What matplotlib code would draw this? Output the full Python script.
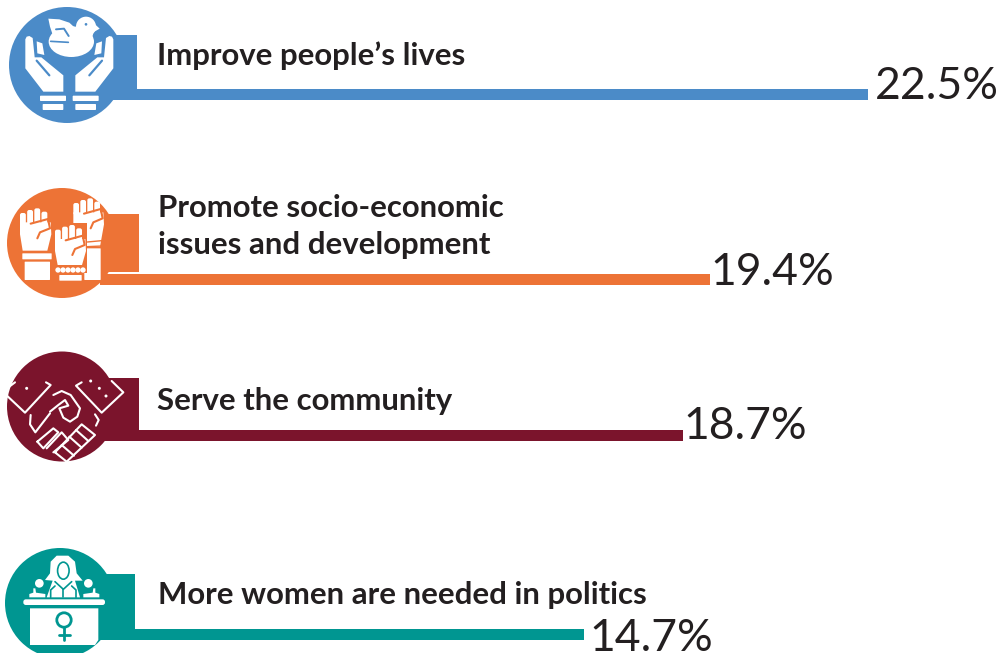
import numpy as np
import matplotlib
matplotlib.use("Agg")
import matplotlib.pyplot as plt
from matplotlib.patches import Circle, Rectangle, Polygon, FancyBboxPatch, Ellipse

W, H = 1004, 653

# Chart content
categories = ["Improve people\u2019s lives",
              "Promote socio-economic\nissues and development",
              "Serve the community",
              "More women are needed in politics"]
shares = [22.5, 19.4, 18.7, 14.7]
share_labels = ["22.5%", "19.4%", "18.7%", "14.7%"]
colors = ["#4b8bc8", "#ed7336", "#7b142c", "#009691"]

# Layout, in pixels from the top-left corner
bar_centres = [94, 279.5, 435.5, 634.5]
bar_height = 11
label_gap = [7, 0, 0, 5]
label_baseline = [99, 285, 439, 651]
text_x = [157, 158, 157, 158]
text_baseline = [65, 254, 410, 604]
discs = [(67, 65, 58), (62, 243, 55), (62, 406.5, 55), (60, 603, 55)]
blocks = [(60, 35, 137, 92), (60, 214, 139, 272), (60, 378, 139, 432), (60, 574, 135, 631)]

# The value axis of this graphic is not uniform, so it gets a piecewise scale.
scale_values = [0, 14.7, 18.7, 19.4, 22.5, 25.2]
scale_pixels = [100, 584, 683, 710, 868, 1004]

fig = plt.figure(figsize=(W / 100, H / 100), dpi=100, facecolor="white")

ax = fig.add_axes([100 / W, 0, (W - 100) / W, 1], zorder=1)
ax.set_xscale("function", functions=(
    lambda v: np.interp(v, scale_values, scale_pixels),
    lambda p: np.interp(p, scale_pixels, scale_values)))
ax.set_xlim(0, 25.2)
ax.set_ylim(H, 0)
ax.axis("off")
ax.barh(bar_centres, shares, height=bar_height, color=colors, linewidth=0)

VALUE_FONT = dict(family="Lato", fontsize=32, color="#231f20", va="baseline", ha="left")
for v, txt, gap, base in zip(shares, share_labels, label_gap, label_baseline):
    ax.annotate(txt, xy=(v, base), xytext=(gap, 0), textcoords="offset pixels",
                annotation_clip=False, **VALUE_FONT)

# Pixel-space layer for the badges, blocks and captions
deco = fig.add_axes([0, 0, 1, 1], zorder=2)
deco.set_xlim(0, W)
deco.set_ylim(H, 0)
deco.axis("off")
deco.patch.set_alpha(0)

for (x0, y0, x1, y1), c in zip(blocks, colors):
    deco.add_patch(Rectangle((x0, y0), x1 - x0, y1 - y0, color=c, lw=0))
for (cx, cy, r), c in zip(discs, colors):
    deco.add_patch(Circle((cx, cy), r, color=c, lw=0))

for x, base, txt in zip(text_x, text_baseline, categories):
    lines = txt.split("\n")
    for i, line_text in enumerate(lines):
        y = base - (len(lines) - 1 - i) * 37
        deco.text(x, y, line_text, family="Lato", fontweight="bold", fontsize=22.4,
                  color="#231f20", va="baseline", ha="left")


def poly(pts, ox, oy, fc="white", **kw):
    pts = np.asarray(pts, float) / 3 + (ox, oy)
    deco.add_patch(Polygon(pts, closed=True, fc=fc, ec="none", joinstyle="round", **kw))


def line(pts, ox, oy, color="white", lw=1.6):
    pts = np.asarray(pts, float) / 3 + (ox, oy)
    deco.plot(pts[:, 0], pts[:, 1], color=color, lw=lw, solid_capstyle="round",
              solid_joinstyle="round")


def rrect(x0, y0, x1, y1, ox, oy, fc="white", rad=2.0):
    deco.add_patch(FancyBboxPatch((x0 / 3 + ox + rad, y0 / 3 + oy + rad),
                                  (x1 - x0) / 3 - 2 * rad, (y1 - y0) / 3 - 2 * rad,
                                  boxstyle=f"round,pad={rad}", fc=fc, ec="none", lw=0))


def dot(x, y, r, ox, oy, fc="white"):
    deco.add_patch(Circle((x / 3 + ox, y / 3 + oy), r / 3, fc=fc, ec="none", lw=0))


# --- Hands holding a dove
c = colors[0]
ox, oy = 0, 0
deco.add_patch(Ellipse((214 / 3, 125 / 3), 136 / 3, 92 / 3, fc="white", ec="none"))
poly([(145, 56), (178, 58), (208, 68), (232, 90), (280, 100), (270, 135), (210, 130),
      (160, 110), (150, 80)], ox, oy)
dot(258, 80, 30, ox, oy)
poly([(280, 68), (299, 86), (278, 98)], ox, oy)
line([(168, 88), (192, 86), (206, 108)], ox, oy, color=c, lw=1.4)
line([(152, 124), (205, 127)], ox, oy, color=c, lw=1.2)
dot(258, 73, 4, ox, oy, fc=c)
for mirrored in (False, True):
    m = (lambda p: [(416 - x, y) for x, y in p]) if mirrored else (lambda p: p)
    poly(m([(76, 118), (80, 110), (88, 108), (98, 114), (104, 172), (124, 172), (190, 226),
            (190, 275), (130, 275), (76, 205)]), ox, oy)
    poly(m([(110, 124), (127, 130), (133, 165), (112, 160)]), ox, oy)
    line(m([(110, 182), (148, 226)]), ox, oy, color=c, lw=1.6)
for a, b in ((120, 198), (218, 296)):
    rrect(a, 287, b, 303, ox, oy, rad=0.8)
rrect(128, 312, 190, 330, ox, oy, rad=0.8)
rrect(226, 312, 288, 330, ox, oy, rad=0.8)

# --- Raised fists
c = colors[1]
ox, oy = 0, 180


def fist(x0, x1, top, palm_bottom, wrist_in=8):
    w = (x1 - x0) / 4
    heights = [14, 5, 0, 10]
    for i, dy in enumerate(heights):
        rrect(x0 + i * w, top + dy, x0 + (i + 1) * w - 4, top + 50, ox, oy, rad=2.0)
    poly([(x0, top + 42), (x1 + 6, top + 42), (x1 + 8, top + 78), (x1 - 4, palm_bottom),
          (x0 + wrist_in, palm_bottom), (x0, top + 78)], ox, oy)
    line([(x0 + 32, top + 46), (x1 - 2, top + 32), (x1 + 4, top + 60), (x0 + 60, top + 72),
          (x0 + 52, top + 90)], ox, oy, color=c, lw=1.5)


fist(220, 304, 55, 200)
rrect(253, 205, 302, 300, ox, oy, rad=0.5)
line([(262, 186), (305, 182)], ox, oy, color=c, lw=1.0)
line([(262, 200), (305, 198)], ox, oy, color=c, lw=1.0)
fist(60, 146, 85, 212)
rrect(67, 220, 155, 238, ox, oy, rad=0.5)
rrect(74, 245, 150, 300, ox, oy, rad=0.5)
poly([(158, 130), (262, 130), (262, 280), (158, 280)], ox, oy, fc=c)
fist(165, 250, 135, 255)
for bx in range(174, 256, 15):
    dot(bx, 270, 8, ox, oy)
rrect(178, 285, 245, 302, ox, oy, rad=0.5)

# --- Handshake
ox, oy = 0, 345
lw = 1.5
line([(45, 112), (8, 140), (75, 203), (152, 120), (138, 112)], ox, oy, lw=lw)
line([(245, 112), (228, 122), (305, 203), (370, 142), (335, 108)], ox, oy, lw=lw)
for px, py in ((80, 130), (298, 130), (318, 153), (272, 108)):
    dot(px, py, 4.5, ox, oy)
line([(160, 150), (185, 138), (212, 150), (240, 190), (232, 215), (210, 230), (190, 218),
      (178, 190), (205, 182), (195, 165), (175, 180), (150, 200)], ox, oy, lw=lw)
line([(92, 210), (90, 238), (106, 262), (150, 205)], ox, oy, lw=lw)
line([(112, 290), (160, 250), (175, 262), (130, 310), (112, 290)], ox, oy, lw=lw)
line([(140, 310), (185, 262), (205, 285), (160, 322)], ox, oy, lw=lw)
line([(285, 208), (296, 225), (288, 242)], ox, oy, lw=lw)
line([(165, 322), (245, 238), (285, 270), (200, 350), (165, 322)], ox, oy, lw=lw)
line([(185, 300), (222, 332)], ox, oy, lw=lw)
line([(208, 275), (245, 308)], ox, oy, lw=lw)
line([(228, 255), (265, 288)], ox, oy, lw=lw)

# --- Speaker at a podium
c = colors[3]
ox, oy = 0, 540
rrect(70, 178, 315, 195, ox, oy, rad=2.5)
poly([(90, 205), (295, 205), (295, 300), (285, 315), (90, 315)], ox, oy)
deco.add_patch(Circle((192 / 3 + ox, 240 / 3 + oy), 7.2, fc="none", ec=c, lw=2))
line([(192, 262), (192, 300)], ox, oy, color=c, lw=2)
line([(176, 285), (209, 285)], ox, oy, color=c, lw=2)
poly([(135, 120), (150, 100), (152, 65), (170, 47), (205, 47), (225, 65), (230, 100), (248, 122),
      (225, 122), (240, 172), (140, 172), (158, 122)], ox, oy)
deco.add_patch(Ellipse((190 / 3 + ox, 92 / 3 + oy), 11.5, 17, fc="white", ec=c, lw=1.2))
line([(152, 172), (152, 150), (165, 138)], ox, oy, color=c, lw=1.2)
line([(228, 172), (228, 150), (215, 138)], ox, oy, color=c, lw=1.2)
line([(165, 125), (190, 148), (215, 125)], ox, oy, color=c, lw=1.2)
line([(190, 148), (190, 172)], ox, oy, color=c, lw=1.2)
dot(118, 130, 13, ox, oy)
dot(265, 130, 13, ox, oy)
poly([(100, 145), (106, 145), (108, 158), (136, 162), (136, 172), (88, 172), (88, 162), (100, 158)], ox, oy)
poly([(280, 145), (286, 145), (286, 158), (298, 162), (298, 172), (250, 172), (250, 162), (278, 158)], ox, oy)

deco.set_xlim(0, W)
deco.set_ylim(H, 0)
fig.savefig("out.png", dpi=100, facecolor="white")
